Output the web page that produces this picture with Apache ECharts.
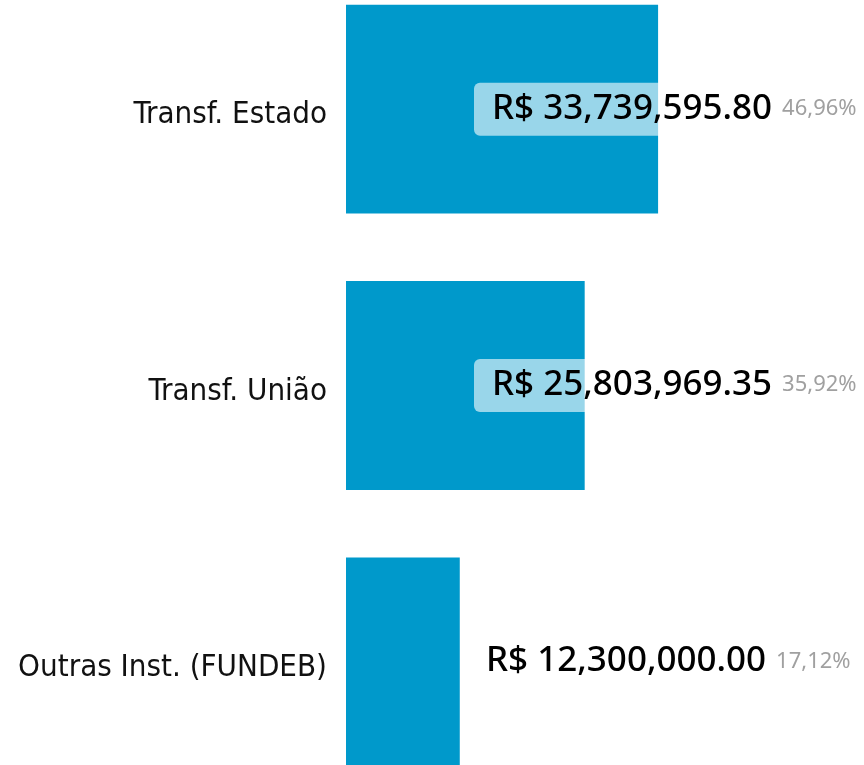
<!DOCTYPE html>
<html>
<head>
<meta charset="utf-8">
<script src="https://cdn.jsdelivr.net/npm/echarts@6/dist/echarts.min.js"></script>
<style>html,body{margin:0;padding:0;background:#fff}#c{width:864px;height:765px}</style>
</head>
<body>
<div id="c"></div>
<script>
const categories = ['Transf. Estado', 'Transf. União', 'Outras Inst. (FUNDEB)'];
const values = [33739595.80, 25803969.35, 12300000.00];
const valueLabels = ['R$ 33,739,595.80', 'R$ 25,803,969.35', 'R$ 12,300,000.00'];
const percentLabels = ['46,96%', '35,92%', '17,12%'];
const labelShift = [0, 0, -6];

const chart = echarts.init(document.getElementById('c'), null, {renderer: 'canvas'});
const data = values.map((v, i) => ({
  value: v,
  label: { position: [128 + labelShift[i], '50%'] }
}));
chart.setOption({
  animation: false,
  grid: { left: 346, right: 0, top: -29, bottom: -35, containLabel: false, outerBoundsMode: 'none' },
  xAxis: {
    type: 'value', min: 0, max: 56000000,
    show: false
  },
  yAxis: {
    type: 'category', inverse: true, data: categories,
    axisLine: { show: false }, axisTick: { show: false }, splitLine: { show: false },
    axisLabel: {
      margin: 19,
      formatter: v => '{a|' + v + '}',
      rich: {
        a: {
          color: '#111', fontSize: 31, lineHeight: 36,
          padding: [12, 0, 0, 0],
          fontFamily: '"DejaVu Sans Condensed", "DejaVu Sans", sans-serif'
        }
      }
    }
  },
  series: [{
    type: 'bar',
    data: data,
    barCategoryGap: '24.4%',
    itemStyle: { color: '#0099CB' },
    label: {
      show: true,
      verticalAlign: 'middle',
      align: 'left',
      backgroundColor: 'rgba(255,255,255,0.6)',
      borderRadius: 6,
      padding: [6, 12, 7, 18],
      formatter: p => '{v|' + valueLabels[p.dataIndex] + '}{p|' + percentLabels[p.dataIndex] + '}',
      rich: {
        v: { fontSize: 35, fontWeight: 500, color: '#000', fontFamily: '"Noto Sans", sans-serif', lineHeight: 40 },
        p: { fontSize: 22, color: '#a0a0a0', fontFamily: '"Noto Sans", sans-serif', lineHeight: 40, padding: [0, 0, 0, 10] }
      }
    }
  }]
});
</script>
</body>
</html>
